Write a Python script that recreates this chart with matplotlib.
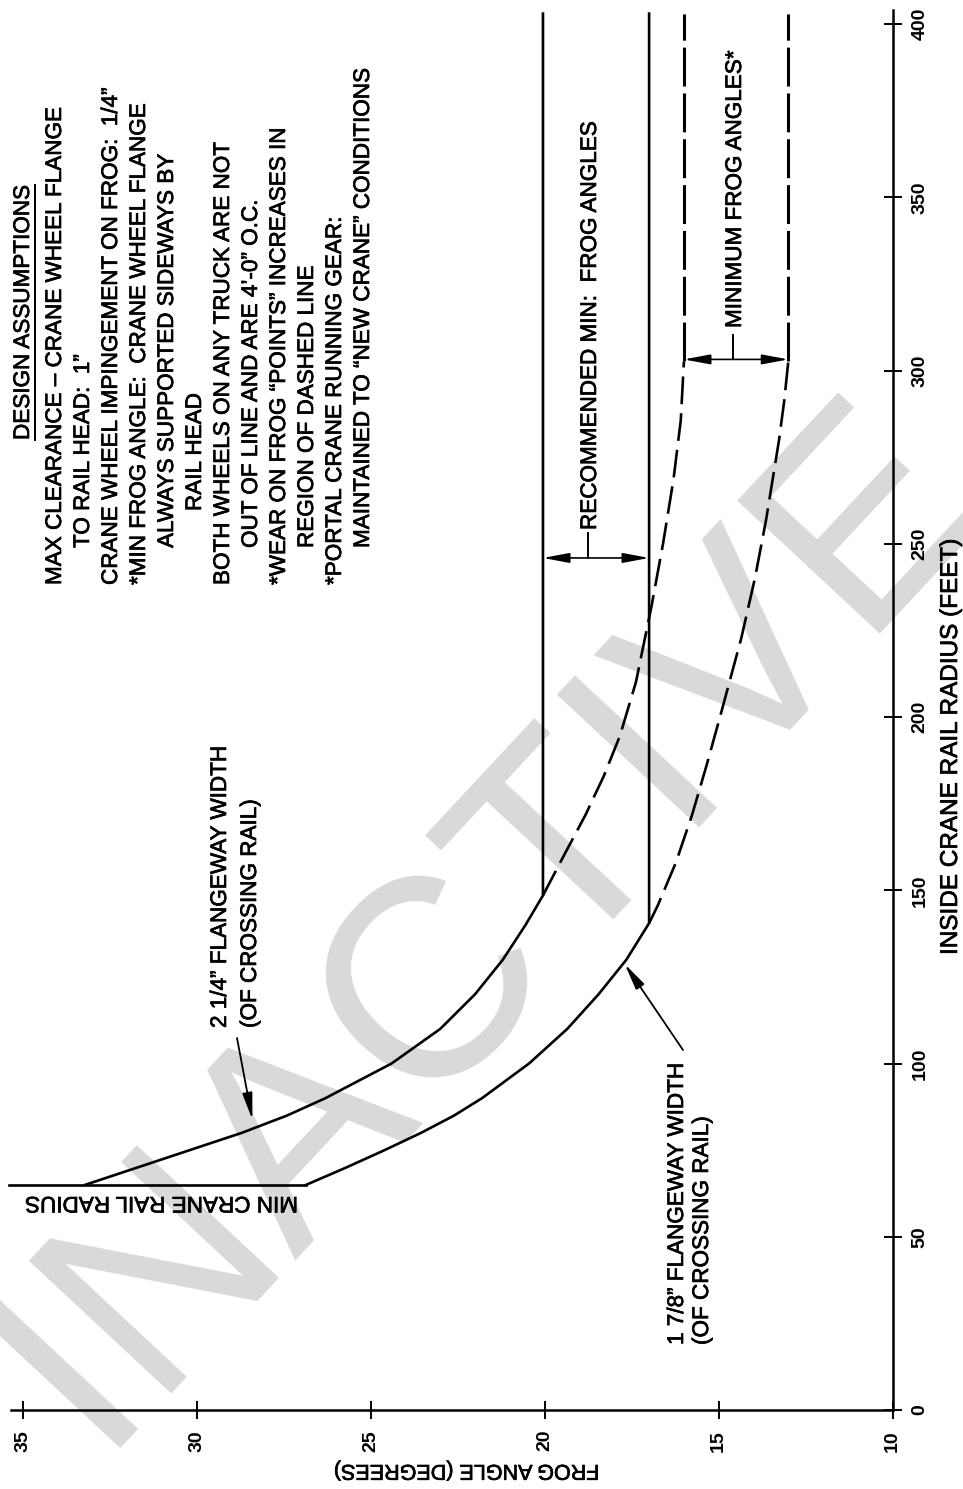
import matplotlib
matplotlib.use("Agg")
import matplotlib.pyplot as plt
import matplotlib.patheffects as pe

plt.rcParams['font.family'] = ['Liberation Sans', 'DejaVu Sans']
plt.rcParams['lines.scale_dashes'] = False

# frog angle (deg) against inside crane rail radius (ft)
min_radius = 65
min_line_angle = [35.4, 26.85]

upper_radius = [65, 70, 75, 80, 85, 90, 100, 110, 120, 130, 140, 148.5, 403]
upper_angle = [33.2, 31.7, 30.2, 28.7, 27.4, 26.3, 24.4, 23.0, 22.0, 21.2, 20.55, 20.05, 20.05]

lower_radius = [65, 70, 75, 80, 85, 90, 100, 110, 120, 130, 140.5, 403]
lower_angle = [26.85, 25.7, 24.6, 23.55, 22.6, 21.8, 20.45, 19.35, 18.45, 17.65, 17.0, 17.0]

upper_dash_radius = [148.5, 160, 171.7, 183, 194.5, 210, 232, 250, 268.5, 285.6, 302.6]
upper_dash_angle = [20.05, 19.45, 18.83, 18.3, 17.84, 17.38, 16.93, 16.6, 16.30, 16.09, 16.0]
lower_dash_radius = [140.5, 145.4, 158, 171.6, 186, 200.1, 222.8, 240, 256.8, 279.7, 291, 302.6]
lower_dash_angle = [17.0, 16.76, 16.23, 15.77, 15.35, 14.96, 14.35, 13.96, 13.64, 13.27, 13.12, 13.0]
dash_top = 403

recommended_radius = 245.9
minimum_radius = 303.2

angle_ticks = [35, 30, 25, 20, 15, 10]
radius_ticks = [0, 50, 100, 150, 200, 250, 300, 350, 400]

notes = [
    (0, "MAX CLEARANCE \u2013 CRANE WHEEL FLANGE"),
    (1, "TO RAIL HEAD:  1\u201d"),
    (0, "CRANE WHEEL IMPINGEMENT ON FROG:  1/4\u201d"),
    (0, "*MIN FROG ANGLE:  CRANE WHEEL FLANGE"),
    (1, "ALWAYS SUPPORTED SIDEWAYS BY"),
    (2, "RAIL HEAD"),
    (0, "BOTH WHEELS ON ANY TRUCK ARE NOT"),
    (1, "OUT OF LINE AND ARE 4\u2019-0\u201d O.C."),
    (0, "*WEAR ON FROG \u201cPOINTS\u201d INCREASES IN"),
    (1, "REGION OF DASHED LINE"),
    (0, "*PORTAL CRANE RUNNING GEAR:"),
    (1, "MAINTAINED TO \u201cNEW CRANE\u201d CONDITIONS"),
]

# page layout: the sheet is printed turned a quarter turn
W, H = 963, 1489
PX_DEG = 34.8
PX_FT = 3.465
A_LEFT = 35 + 22.7 / PX_DEG
R_TOP = 1410 / PX_FT


def at(x, y):
    # pixel spot on the sheet -> (angle, radius)
    return A_LEFT - x / PX_DEG, R_TOP - y / PX_FT


FS = 16.2
heavy = [pe.withStroke(linewidth=0.5, foreground='black')]

fig = plt.figure(figsize=(W / 100, H / 100), dpi=100)
ax = fig.add_axes([0, 0, 1, 1])
ax.set_xlim(A_LEFT, A_LEFT - W / PX_DEG)
ax.set_ylim(R_TOP - H / PX_FT, R_TOP)
ax.patch.set_visible(False)

ax.text(0.506, 0.382, "INACTIVE", transform=ax.transAxes, fontsize=204,
        color='#d9d9d9', rotation=47, ha='center', va='center', zorder=0)

for s in ['top', 'left']:
    ax.spines[s].set_visible(False)
ax.spines['bottom'].set_position(('data', 0))
ax.spines['bottom'].set_bounds(35.34, 10)
ax.spines['right'].set_position(('data', 10))
ax.spines['right'].set_bounds(0, 404)
for s in ['bottom', 'right']:
    ax.spines[s].set_linewidth(1.8)
ax.xaxis.set_ticks_position('bottom')
ax.yaxis.set_ticks_position('right')
ax.set_xticks(angle_ticks)
ax.set_yticks(radius_ticks)
ax.tick_params(direction='inout', length=13.5, width=1.4, labelsize=14)
ax.tick_params(axis='x', labelrotation=90, pad=7.6)
ax.tick_params(axis='y', labelrotation=90, pad=6.8, labelright=True, labelleft=False)
for lbl in ax.get_xticklabels() + ax.get_yticklabels():
    lbl.set_fontweight('bold')
for lbl in ax.get_yticklabels():
    lbl.set_va('center')

lw = 1.9
ax.plot(min_line_angle, [min_radius, min_radius], color='black', lw=lw)
ax.plot(upper_angle, upper_radius, color='black', lw=lw)
ax.plot(lower_angle, lower_radius, color='black', lw=lw)
ax.plot(upper_dash_angle, upper_dash_radius, color='black', lw=lw, dashes=(20, 6.5))
ax.plot(lower_dash_angle, lower_dash_radius, color='black', lw=lw, dashes=(20, 6.5))
ax.plot([upper_dash_angle[-1]] * 2, [upper_dash_radius[-1], dash_top], color='black', lw=2.2, dashes=(28, 5))
ax.plot([lower_dash_angle[-1]] * 2, [lower_dash_radius[-1], dash_top], color='black', lw=2.2, dashes=(28, 5))


def label(x, y, s, rot=90, size=FS, ha='left'):
    return ax.text(*at(x, y), s, fontsize=size, rotation=rot, rotation_mode='anchor',
                   ha=ha, va='baseline', path_effects=heavy)


# design assumptions block
title = label(29, 440, "DESIGN ASSUMPTIONS")
starts = {0: 585, 1: 548, 2: 511}
for i, (level, line) in enumerate(notes):
    label(61 + 28 * i, starts[level], line)

# curve labels
label(226, 1028, "2 1/4\u201d FLANGEWAY WIDTH")
label(256, 1028, "(OF CROSSING RAIL)")
label(683, 1345, "1 7/8\u201d FLANGEWAY WIDTH")
label(708, 1345, "(OF CROSSING RAIL)")

head = '-|>,head_length=1.6,head_width=0.3'
ax.annotate('', xy=(upper_angle[3] - 0.3, 83.8), xytext=at(237, 1038),
            arrowprops=dict(arrowstyle=head, color='black', lw=1.3,
                            shrinkA=0, shrinkB=0, mutation_scale=10))
ax.annotate('', xy=(17.70, 128.7), xytext=at(683, 1050),
            arrowprops=dict(arrowstyle=head, color='black', lw=1.3,
                            shrinkA=0, shrinkB=0, mutation_scale=10))

label(298, 1197, "MIN CRANE RAIL RADIUS", rot=180)

# spans between the lines
both = '<|-|>,head_length=1.6,head_width=0.3'
ax.annotate('', xy=(upper_angle[-1], recommended_radius),
            xytext=(lower_angle[-1], recommended_radius),
            arrowprops=dict(arrowstyle=both, color='black', lw=1.2,
                            shrinkA=0, shrinkB=0, mutation_scale=10))
ca = at(588, 533)
ax.plot([ca[0], ca[0]], [recommended_radius, ca[1]], color='black', lw=1.4)
label(596, 530, "RECOMMENDED MIN:  FROG ANGLES")

ax.annotate('', xy=(upper_dash_angle[-1], minimum_radius),
            xytext=(lower_dash_angle[-1], minimum_radius),
            arrowprops=dict(arrowstyle=both, color='black', lw=1.2,
                            shrinkA=0, shrinkB=0, mutation_scale=10))
cm = at(733, 335)
ax.plot([cm[0], cm[0]], [minimum_radius, cm[1]], color='black', lw=1.4)
label(741, 328, "MINIMUM FROG ANGLES*")

# axis titles
label(957, 955, "INSIDE CRANE RAIL RADIUS (FEET)", size=17.5)
label(467, 1465, "FROG ANGLE (DEGREES)", rot=180, size=15.5, ha='center')

# underline under the block title
fig.canvas.draw()
bb = title.get_window_extent(fig.canvas.get_renderer())
inv = ax.transData.inverted()
(a0, r0), (a1, r1) = inv.transform([(bb.x1 + 1, bb.y0), (bb.x1 + 1, bb.y1)])
ax.plot([a0, a1], [r0, r1], color='black', lw=1.4)

fig.savefig("out.png", dpi=100)
